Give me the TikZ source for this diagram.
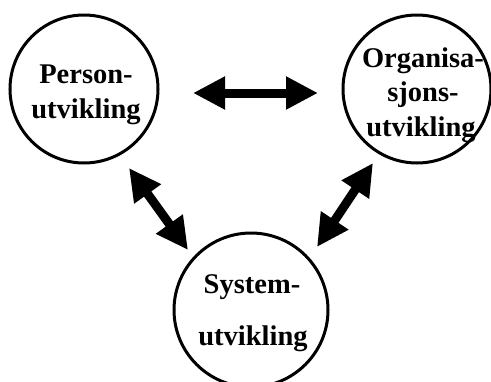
\documentclass[tikz,border=0pt]{standalone}
\usepackage{fontspec}
\setmainfont{Liberation Serif}
\usetikzlibrary{arrows.meta}
\begin{document}
\begin{tikzpicture}[x=1pt,y=-1pt,
  ring/.style={circle,draw=black,line width=3pt,inner sep=0pt},
  lbl/.style={anchor=base,inner sep=0pt,font=\fontsize{28.5}{30}\selectfont\bfseries},
  dbl/.style={line width=9pt,{Triangle[length=32pt,width=31pt]}-{Triangle[length=32pt,width=31pt]}}]
\useasboundingbox (0,0) rectangle (491,381);
\node[ring,minimum size=148pt] (person) at (84,89) {};
\node[ring,minimum size=148pt] (org) at (417,89) {};
\node[ring,minimum size=154pt] (sys) at (251,310) {};
\node[lbl] (p1) at (86,83) {Person-};
\node[lbl] (p2) at (86,118) {utvikling};
\node[lbl] (o1) at (423,67) {Organisa-};
\node[lbl] (o2) at (423,101) {sjons-};
\node[lbl] (o3) at (421,136) {utvikling};
\node[lbl] (s1) at (252,293) {System-};
\node[lbl] (s2) at (253,345) {utvikling};
\coordinate (a1) at (193,93);
\coordinate (a2) at (318,93);
\coordinate (b1) at (129,168);
\coordinate (b2) at (188,250);
\coordinate (c1) at (373,163);
\coordinate (c2) at (317,247);
\draw[dbl] (a1) -- (a2);
\draw[dbl] (b1) -- (b2);
\draw[dbl] (c1) -- (c2);
\end{tikzpicture}
\end{document}
